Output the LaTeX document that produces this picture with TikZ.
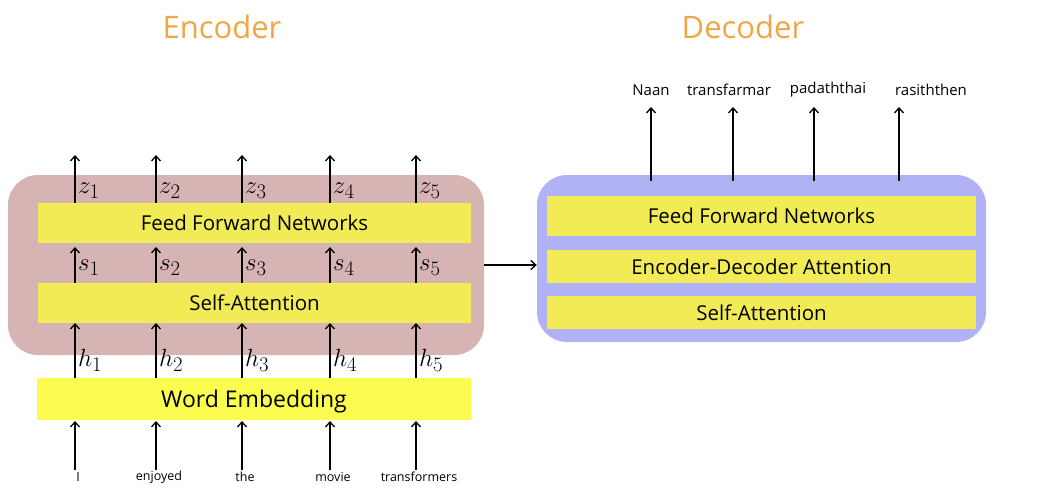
\documentclass[tikz,border=0pt]{standalone}
\usepackage{fontspec}
\setmainfont{Open Sans}
\usetikzlibrary{arrows.meta}
\definecolor{encbg}{HTML}{D6B4B3}
\definecolor{decbg}{HTML}{B1B1F5}
\definecolor{ybox}{HTML}{F1EC55}
\definecolor{ybright}{HTML}{FCFC50}
\definecolor{ttl}{HTML}{F2A545}
\tikzset{
  bgbox/.style={draw=none, rounded corners=30pt, inner sep=0pt},
  ybar/.style={draw=none, fill=ybox, inner sep=0pt, text height=16pt, text depth=1pt, font=\fontsize{20.5}{24}\selectfont},
  arr/.style={line width=1.3pt, -{Straight Barb[length=5pt,width=9pt]}},
  mlab/.style={anchor=west, inner sep=1pt, font=\fontsize{28}{31}\selectfont},
  inword/.style={inner sep=1pt, font=\fontsize{12.5}{14}\selectfont},
  outword/.style={inner sep=1pt, font=\fontsize{15}{17}\selectfont},
  title/.style={inner sep=0pt, text=ttl, font=\fontsize{31}{36}\selectfont}
}
\begin{document}
\begin{tikzpicture}[x=1pt,y=-1pt]
\useasboundingbox (0,0) rectangle (1047,488);
% titles
\node[title] (enct) at (222,27) {Encoder};
\node[title] (dect) at (743,27) {Decoder};
% backgrounds
\node[bgbox, fill=encbg, minimum width=476pt, minimum height=180pt] (encbg) at (246,265) {};
\node[bgbox, fill=decbg, minimum width=449pt, minimum height=167pt] (decbg) at (761.5,258.5) {};
% encoder bars
\node[ybar, minimum width=433pt, minimum height=40pt] (effn) at (254.5,223) {Feed Forward Networks};
\node[ybar, minimum width=433pt, minimum height=40pt] (esa) at (254.5,303) {Self-Attention};
\node[ybar, fill=ybright, minimum width=434pt, minimum height=42pt, text height=18pt, font=\fontsize{23}{26}\selectfont] (we) at (254,399) {Word Embedding};
% decoder bars
\node[ybar, minimum width=429pt, minimum height=40pt] (dffn) at (761.5,216) {Feed Forward Networks};
\node[ybar, minimum width=429pt, minimum height=33pt] (deda) at (761.5,266.5) {Encoder-Decoder Attention};
\node[ybar, minimum width=429pt, minimum height=33pt] (dsa) at (761.5,312.5) {Self-Attention};
% encoder columns
\foreach \x/\i/\w in {75/1/I,156/2/enjoyed,242/3/the,330/4/movie,416/5/transformers}{
  \coordinate (zt\i) at (\x,155);
  \coordinate (st\i) at (\x,247);
  \coordinate (ht\i) at (\x,323);
  \coordinate (it\i) at (\x,421);
  \coordinate (ib\i) at (\x,470);
  \draw[arr] (ib\i |- effn.north) -- (zt\i);
  \draw[arr] (ib\i |- esa.north) -- (st\i);
  \draw[arr] (ib\i |- we.north) -- (ht\i);
  \draw[arr] (ib\i) -- (it\i);
  \node[mlab] (zl\i) at (\x+2,191) {$z_{\i}$};
  \node[mlab] (sl\i) at (\x+2,268) {$s_{\i}$};
  \node[mlab] (hl\i) at (\x+2,360) {$h_{\i}$};
  \node[inword] (w\i) at (\x+3,477) {\w};
}
% decoder outputs
\foreach \x/\i/\w/\dx in {651/1/Naan/0,733/2/transfarmar/-4,814/3/padaththai/14,899/4/rasiththen/32}{
  \coordinate (dt\i) at (\x,107);
  \draw[arr] (dt\i |- decbg.north) ++(0,6) -- (dt\i);
  \node[outword] (o\i) at (\x+\dx,90) {\w};
}
% encoder to decoder
\draw[arr] (encbg.east) -- (encbg.east -| decbg.west);
\end{tikzpicture}
\end{document}
